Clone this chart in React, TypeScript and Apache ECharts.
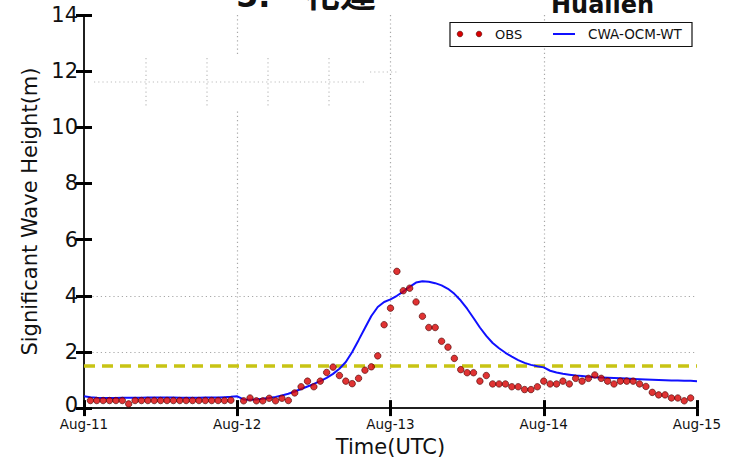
import React, { useEffect, useRef } from "react";
import * as echarts from "echarts";

// Day tick labels (one every 24 hours)
const tickLabels = ["Aug-11", "Aug-12", "Aug-13", "Aug-14", "Aug-15"];
const hoursPerDay = 24;
const totalHours = (tickLabels.length - 1) * hoursPerDay;

// Hourly observed significant wave height (m), hour 0 = Aug-11 00 UTC
const obsHeights: (number | null)[] = [
  null, 0.27, 0.27, 0.27, 0.27, 0.27, 0.27, 0.15, 0.27, 0.27, 0.27, 0.27,
  0.27, 0.27, 0.27, 0.27, 0.27, 0.27, 0.27, 0.27, 0.27, 0.27, 0.27, 0.28,
  null, 0.26, 0.36, 0.26, 0.26, 0.35, 0.26, 0.35, 0.27, 0.54, 0.76, 0.96,
  0.76, 0.96, 1.27, 1.46, 1.16, 0.96, 0.87, 1.06, 1.35, 1.47, 1.86, 2.97,
  3.56, 4.87, 4.18, 4.27, 3.78, 3.27, 2.87, 2.87, 2.38, 2.17, 1.77, 1.37,
  1.26, 1.26, 0.96, 1.16, 0.86, 0.86, 0.86, 0.76, 0.76, 0.66, 0.66, 0.76,
  0.96, 0.86, 0.86, 0.96, 0.86, 1.06, 0.96, 1.06, 1.18, 1.06, 0.96, 0.86,
  0.96, 0.96, 0.96, 0.86, 0.77, 0.56, 0.47, 0.47, 0.36, 0.36, 0.26, 0.36,
  null,
];

// Hourly model (CWA-OCM-WT) significant wave height (m)
const modelHeights: number[] = [
  0.42, 0.39, 0.37, 0.36, 0.36, 0.36, 0.37, 0.37, 0.37, 0.37, 0.38, 0.38,
  0.38, 0.38, 0.38, 0.37, 0.37, 0.37, 0.37, 0.38, 0.38, 0.38, 0.39, 0.40,
  0.42, 0.31, 0.30, 0.31, 0.33, 0.36, 0.40, 0.45, 0.51, 0.59, 0.68, 0.77,
  0.86, 0.96, 1.08, 1.22, 1.40, 1.64, 2.00, 2.42, 2.85, 3.28, 3.60, 3.78,
  3.87, 4.00, 4.15, 4.32, 4.47, 4.52, 4.50, 4.45, 4.37, 4.25, 4.07, 3.83,
  3.54, 3.21, 2.87, 2.57, 2.32, 2.13, 1.97, 1.83, 1.71, 1.61, 1.54, 1.49,
  1.45, 1.33, 1.27, 1.22, 1.19, 1.16, 1.14, 1.12, 1.10, 1.09, 1.08, 1.07,
  1.06, 1.05, 1.04, 1.03, 1.02, 1.01, 1.00, 0.99, 0.98, 0.98, 0.97, 0.97,
  0.96,
];

const warningLevel = 1.5;
const yMin = 0;
const yMax = 14;
const yInterval = 2;

const FONT = '"DejaVu Sans", "Liberation Sans", sans-serif';
const HIDE = "rgba(0,0,0,0)";
const GRID = "#a8a8a8";

export default function App() {
  const ref = useRef<HTMLDivElement>(null);

  useEffect(() => {
    const chart = echarts.init(ref.current!, null, { renderer: "svg" });

    const obsData = obsHeights
      .map((v, i) => (v == null ? null : [i, v]))
      .filter((d) => d !== null);
    const modelData = modelHeights.map((v, i) => [i, v]);

    const axisLine = { show: true, lineStyle: { color: "#111", width: 1.5 } };
    const axisTick = {
      show: true,
      inside: true,
      length: 8,
      lineStyle: { color: "#000", width: 3 },
    };

    const dotted = (x1: number, y1: number, x2: number, y2: number) => ({
      type: "line",
      silent: true,
      z: 5,
      shape: { x1, y1, x2, y2 },
      style: { stroke: "#bdbdbd", lineWidth: 1.2, lineDash: [1.2, 3] },
    });

    chart.setOption({
      animation: false,
      backgroundColor: "#fff",
      grid: { left: 84, right: 33, top: 15, bottom: 52, containLabel: false },
      xAxis: [
        {
          type: "value",
          min: 0,
          max: totalHours,
          interval: hoursPerDay,
          position: "bottom",
          name: "Time(UTC)",
          nameLocation: "middle",
          nameGap: 24,
          nameTextStyle: { fontFamily: FONT, fontSize: 21, color: "#111" },
          axisLine,
          axisTick,
          axisLabel: {
            fontFamily: FONT,
            fontSize: 13.5,
            color: "#111",
            margin: 9,
            formatter: (v: number) => tickLabels[Math.round(v / hoursPerDay)] ?? "",
          },
          splitLine: {
            show: true,
            lineStyle: {
              color: [HIDE, GRID, GRID, GRID, HIDE],
              type: [1.2, 3],
              width: 1.2,
            },
          },
        },
        {
          type: "value",
          min: 0,
          max: totalHours,
          interval: hoursPerDay,
          position: "top",
          axisLine,
          axisTick,
          axisLabel: { show: false },
          splitLine: { show: false },
        },
      ],
      yAxis: [
        {
          type: "value",
          min: yMin,
          max: yMax,
          interval: yInterval,
          position: "left",
          name: "Significant Wave Height(m)",
          nameLocation: "middle",
          nameGap: 37,
          nameTextStyle: { fontFamily: FONT, fontSize: 21, color: "#111" },
          axisLine,
          axisTick,
          axisLabel: {
            fontFamily: FONT,
            fontSize: 21,
            color: "#111",
            margin: 6,
            formatter: (v: number) => (v === yMin ? `{z|${v}}` : `${v}`),
            rich: {
              z: {
                fontFamily: FONT,
                fontSize: 21,
                color: "#111",
                lineHeight: 21,
                padding: [0, 0, 6, 0],
              },
            },
          },
          splitLine: {
            show: true,
            lineStyle: {
              color: [HIDE, GRID, GRID, HIDE, HIDE, HIDE, HIDE, HIDE],
              type: [1.2, 3],
              width: 1.2,
            },
          },
        },
        {
          type: "value",
          min: yMin,
          max: yMax,
          interval: yInterval,
          position: "right",
          axisLine,
          axisTick,
          axisLabel: { show: false },
          splitLine: { show: false },
        },
      ],
      series: [
        {
          name: "threshold",
          type: "line",
          xAxisIndex: 0,
          yAxisIndex: 0,
          data: [
            [0, warningLevel],
            [totalHours, warningLevel],
          ],
          symbol: "none",
          silent: true,
          z: 1,
          lineStyle: { color: "#c8c414", width: 3.5, type: [11, 7] },
        },
        {
          name: "CWA-OCM-WT",
          type: "line",
          xAxisIndex: 0,
          yAxisIndex: 0,
          data: modelData,
          symbol: "none",
          z: 3,
          lineStyle: { color: "#1010ff", width: 2 },
        },
        {
          name: "OBS",
          type: "scatter",
          xAxisIndex: 0,
          yAxisIndex: 0,
          data: obsData,
          symbol: "circle",
          symbolSize: 6.5,
          z: 4,
          itemStyle: { color: "#d80000", borderColor: "#4a0000", borderWidth: 0.8 },
        },
      ],
      graphic: [
        // title fragments cut by the top edge (as in the reference)
        {
          type: "text",
          x: 236,
          y: -4,
          silent: true,
          style: {
            text: "5.",
            font: `bold 32px ${FONT}`,
            fill: "#111",
            align: "left",
            textAlign: "left",
            verticalAlign: "middle",
            textVerticalAlign: "middle",
          },
        },
        {
          type: "text",
          x: 304,
          y: -9,
          silent: true,
          style: {
            text: "花蓮",
            font: `bold 36px "Noto Sans CJK TC", sans-serif`,
            fill: "#111",
            align: "left",
            textAlign: "left",
            verticalAlign: "middle",
            textVerticalAlign: "middle",
          },
        },
        {
          type: "text",
          x: 551,
          y: 4.7,
          silent: true,
          style: {
            text: "Hualien",
            font: `bold 24px ${FONT}`,
            fill: "#111",
            align: "left",
            textAlign: "left",
            verticalAlign: "middle",
            textVerticalAlign: "middle",
          },
        },
        // faint leftover dotted marks in the upper-left of the plot
        {
          type: "rect",
          silent: true,
          z: 4,
          shape: { x: 235, y: 56, width: 4, height: 54 },
          style: { fill: "#fff" },
        },
        dotted(94, 82, 366, 82),
        dotted(146, 58, 146, 108),
        dotted(207, 58, 207, 108),
        dotted(268, 58, 268, 108),
        dotted(329, 58, 329, 108),
        dotted(370, 72, 398, 72),
        // legend
        {
          type: "rect",
          z: 10,
          silent: true,
          shape: { x: 450, y: 22.5, width: 242, height: 24 },
          style: { fill: "#fff", stroke: "#111", lineWidth: 1.2 },
        },
        {
          type: "circle",
          z: 11,
          silent: true,
          shape: { cx: 460, cy: 34, r: 2.8 },
          style: { fill: "#d80000", stroke: "#4a0000", lineWidth: 0.6 },
        },
        {
          type: "circle",
          z: 11,
          silent: true,
          shape: { cx: 479, cy: 34, r: 2.8 },
          style: { fill: "#d80000", stroke: "#4a0000", lineWidth: 0.6 },
        },
        {
          type: "text",
          z: 11,
          silent: true,
          x: 495,
          y: 34,
          style: {
            text: "OBS",
            font: `13px ${FONT}`,
            fill: "#111",
            align: "left",
            textAlign: "left",
            verticalAlign: "middle",
            textVerticalAlign: "middle",
          },
        },
        {
          type: "line",
          z: 11,
          silent: true,
          shape: { x1: 553, y1: 34, x2: 575, y2: 34 },
          style: { stroke: "#1010ff", lineWidth: 2 },
        },
        {
          type: "text",
          z: 11,
          silent: true,
          x: 588,
          y: 34,
          style: {
            text: "CWA-OCM-WT",
            font: `13.5px ${FONT}`,
            fill: "#111",
            align: "left",
            textAlign: "left",
            verticalAlign: "middle",
            textVerticalAlign: "middle",
          },
        },
      ],
    });

    return () => chart.dispose();
  }, []);

  return (
    <div
      ref={ref}
      style={{
        position: "fixed",
        left: 0,
        top: 0,
        width: 730,
        height: 462,
        background: "#fff",
      }}
    />
  );
}
